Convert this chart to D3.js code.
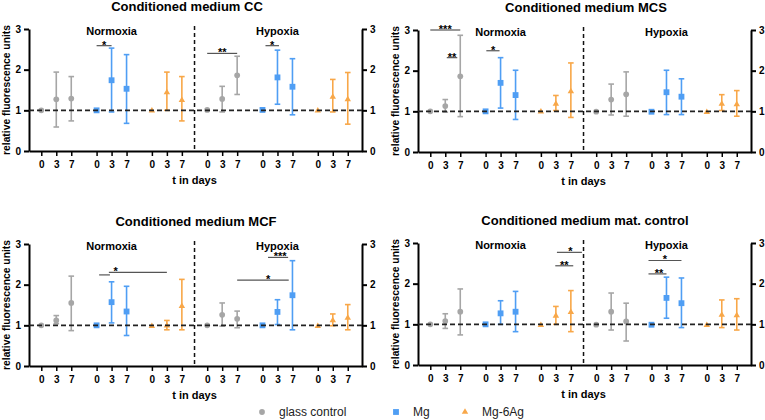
<!DOCTYPE html>
<html>
<head>
<meta charset="utf-8">
<script src="https://cdn.jsdelivr.net/npm/d3@7"></script>
<style>
    body { margin: 0; background: #fff; }
    svg text { font-family: "Liberation Sans", Arial, sans-serif; }
    .axis text { font-size: 10px; font-weight: bold; fill: #000; }
    .axis path, .axis line { stroke: #000; }
</style>
</head>
<body>
<div id="chart"></div>
<script>
// categories
const conditions = ['Normoxia', 'Hypoxia'];
const materials = ['glass control', 'Mg', 'Mg-6Ag'];
const days = ['0', '3', '7'];
const yTicks = [0, 1, 2, 3];

// values per slot: Normoxia (glass 0,3,7 | Mg 0,3,7 | Mg-6Ag 0,3,7), then Hypoxia in the same order
const ccMean = [1.00, 1.27, 1.29, 1.00, 1.74, 1.53, 0.99, 1.44, 1.25, 1.01, 1.28, 1.86, 1.01, 1.81, 1.58, 0.99, 1.33, 1.27];
const ccLow  = [1.00, 0.59, 0.74, 1.00, 0.96, 0.68, 0.99, 1.00, 0.74, 1.01, 0.96, 1.39, 1.01, 1.15, 0.89, 0.99, 0.96, 0.66];
const ccHigh = [1.00, 1.94, 1.83, 1.00, 2.53, 2.37, 0.99, 1.94, 1.83, 1.01, 1.59, 2.33, 1.01, 2.48, 2.27, 0.99, 1.76, 1.93];

const mcsMean = [1.00, 1.13, 1.86, 1.00, 1.70, 1.40, 0.99, 1.18, 1.49, 0.99, 1.29, 1.42, 0.99, 1.47, 1.36, 0.98, 1.18, 1.17];
const mcsLow  = [1.00, 0.98, 0.87, 1.00, 1.08, 0.80, 0.99, 1.02, 0.85, 0.99, 0.91, 0.88, 0.99, 0.92, 0.92, 0.98, 1.02, 0.88];
const mcsHigh = [1.00, 1.29, 2.87, 1.00, 2.32, 2.01, 0.99, 1.39, 2.19, 0.99, 1.67, 1.97, 0.99, 2.01, 1.80, 0.98, 1.41, 1.51];

const mcfMean = [1.00, 1.12, 1.55, 1.00, 1.57, 1.34, 0.98, 0.99, 1.47, 1.00, 1.26, 1.16, 1.00, 1.33, 1.74, 0.98, 1.12, 1.18];
const mcfLow  = [1.00, 1.04, 0.87, 1.00, 1.06, 0.75, 0.98, 0.89, 0.89, 1.00, 0.98, 0.94, 1.00, 1.02, 0.89, 0.98, 0.99, 0.89];
const mcfHigh = [1.00, 1.24, 2.21, 1.00, 2.07, 1.96, 0.98, 1.12, 2.13, 1.00, 1.55, 1.35, 1.00, 1.63, 2.59, 0.98, 1.28, 1.51];

const matMean = [1.00, 1.08, 1.31, 1.00, 1.27, 1.31, 0.98, 1.21, 1.30, 0.99, 1.31, 1.07, 0.99, 1.65, 1.52, 0.98, 1.23, 1.22];
const matLow  = [1.00, 0.90, 0.74, 1.00, 1.00, 0.82, 0.98, 1.00, 0.82, 0.99, 0.86, 0.59, 0.99, 1.15, 0.92, 0.98, 0.92, 0.86];
const matHigh = [1.00, 1.26, 1.87, 1.00, 1.58, 1.81, 0.98, 1.44, 1.83, 0.99, 1.77, 1.52, 0.99, 2.16, 2.14, 0.98, 1.60, 1.63];

// significance brackets: [slot, offset] ends, bar height, label and label anchor
const ccSig = [
    {a: [3, 0], b: [4, 0], y: 2.59, t: '*', c: [3, 0.5]},
    {a: [9, 0], b: [11, 0], y: 2.40, t: '**', c: [10, 0]},
    {a: [12, 0.2], b: [13, 0.1], y: 2.59, t: '*', c: [12, 0.65]}
];
const mcsSig = [
    {a: [0, 0], b: [2, 0], y: 3.00, t: '***', c: [1, 0]},
    {a: [1, 0.1], b: [1, 0.8], y: 2.32, t: '**', c: [1, 0.45]},
    {a: [3, 0.05], b: [3, 0.93], y: 2.49, t: '*', c: [3, 0.5]}
];
const mcfSig = [
    {a: [3, 0.17], b: [3, 0.89], y: 2.24, t: '', c: [3, 0.5]},
    {a: [3, 0.82], b: [7, 0], y: 2.30, t: '*', c: [4, 0.27]},
    {a: [12, 0.37], b: [12, 1.71], y: 2.67, t: '***', c: [13, 0.18]},
    {a: [11, 0], b: [12, 1.75], y: 2.11, t: '*', c: [12, 0.37]}
];
const matSig = [
    {a: [7, 0.07], b: [8, 0.74], y: 2.77, t: '*', c: [7, 0.97]},
    {a: [7, -0.04], b: [8, 0.16], y: 2.44, t: '**', c: [7, 0.56]},
    {a: [12, -0.2], b: [14, 0], y: 2.57, t: '*', c: [13, -0.1]},
    {a: [12, -0.2], b: [13, 0], y: 2.24, t: '**', c: [12, 0.5]}
];

const colors = {'glass control': '#a6a6a6', 'Mg': '#4f9ef4', 'Mg-6Ag': '#f8a748'};
const symbols = {'glass control': d3.symbolCircle, 'Mg': d3.symbolSquare, 'Mg-6Ag': d3.symbolTriangle};
const symbolSize = {'glass control': 26, 'Mg': 34, 'Mg-6Ag': 18};

const panels = [
    {title: 'Conditioned medium CC', mean: ccMean, low: ccLow, high: ccHigh, sig: ccSig, left: 29, top: 29, titleX: 187},
    {title: 'Conditioned medium MCS', mean: mcsMean, low: mcsLow, high: mcsHigh, sig: mcsSig, left: 418, top: 30, titleX: 586},
    {title: 'Conditioned medium MCF', mean: mcfMean, low: mcfLow, high: mcfHigh, sig: mcfSig, left: 29, top: 244, titleX: 196},
    {title: 'Conditioned medium mat. control', mean: matMean, low: matLow, high: matHigh, sig: matSig, left: 418, top: 243, titleX: 585}
];

const plotW = 333, plotH = 122;
const groupStep = 3.69;

const svg = d3.select('#chart').append('svg')
    .attr('width', 765)
    .attr('height', 420);

// slot index -> position along x (groups of 3 days with a gap between groups)
function slotPos(s) {
    const g = Math.floor(s / 3);
    return g * groupStep + (s % 3);
}

function drawPanel(p) {
    const x = d3.scaleLinear()
        .domain([-0.82, slotPos(17) + 0.95])
        .range([0, plotW]);
    const y = d3.scaleLinear()
        .domain([0, 3])
        .range([plotH, 0]);

    const g = svg.append('g')
        .attr('transform', `translate(${p.left},${p.top})`);

    const slots = d3.range(conditions.length * materials.length * days.length).map(i => ({
        i,
        condition: conditions[Math.floor(i / 9)],
        material: materials[Math.floor(i / 3) % 3],
        day: days[i % 3],
        mean: p.mean[i],
        low: p.low[i],
        high: p.high[i]
    }));

    // title
    svg.append('text')
        .attr('x', p.titleX)
        .attr('y', p.top - 18)
        .attr('text-anchor', 'middle')
        .style('font-size', '13px')
        .style('font-weight', 'bold')
        .text(p.title);

    // condition labels centred over the Mg day-3 slot
    conditions.forEach((c, ci) => {
        g.append('text')
            .attr('x', x(slotPos(ci * 9 + 4)))
            .attr('y', 6)
            .attr('text-anchor', 'middle')
            .style('font-size', '11px')
            .style('font-weight', 'bold')
            .text(c);
    });

    // axes
    const fmt = d3.format('d');
    g.append('g')
        .attr('class', 'axis')
        .call(d3.axisLeft(y).tickValues(yTicks).tickFormat(fmt).tickSize(5).tickSizeOuter(0).tickPadding(3))
        .call(a => a.select('.domain').attr('stroke-width', 2))
        .call(a => a.selectAll('.tick line').attr('stroke-width', 2));

    g.append('g')
        .attr('class', 'axis')
        .attr('transform', `translate(${plotW},0)`)
        .call(d3.axisRight(y).tickValues(yTicks).tickFormat(fmt).tickSize(5).tickSizeOuter(0).tickPadding(3))
        .call(a => a.select('.domain').attr('stroke-width', 2))
        .call(a => a.selectAll('.tick line').attr('stroke-width', 2));

    g.append('g')
        .attr('class', 'axis')
        .attr('transform', `translate(0,${plotH})`)
        .call(d3.axisBottom(x)
            .tickValues(slots.map(d => slotPos(d.i)))
            .tickFormat((d, i) => days[i % 3])
            .tickSize(5).tickSizeOuter(0).tickPadding(5))
        .call(a => a.select('.domain').attr('stroke-width', 2))
        .call(a => a.selectAll('.tick line').attr('stroke-width', 1.5));

    // axis titles
    g.append('text')
        .attr('transform', `translate(-19.5,${plotH / 2}) rotate(-90)`)
        .attr('text-anchor', 'middle')
        .style('font-size', '10.3px')
        .style('font-weight', 'bold')
        .text('relative fluorescence units');

    g.append('text')
        .attr('x', x((slotPos(8) + slotPos(9)) / 2))
        .attr('y', plotH + 33)
        .attr('text-anchor', 'middle')
        .style('font-size', '11px')
        .style('font-weight', 'bold')
        .text('t in days');

    // divider between normoxia and hypoxia
    g.append('line')
        .attr('x1', x((slotPos(8) + slotPos(9)) / 2))
        .attr('x2', x((slotPos(8) + slotPos(9)) / 2))
        .attr('y1', -3)
        .attr('y2', plotH)
        .attr('stroke', '#111')
        .attr('stroke-width', 1.5)
        .attr('stroke-dasharray', '4,3');

    // error bars
    const bars = g.selectAll('.err')
        .data(slots.filter(d => d.high - d.low > 0.001))
        .enter().append('g')
        .attr('class', 'err')
        .attr('stroke', d => colors[d.material])
        .attr('stroke-width', 1.6);

    bars.append('line')
        .attr('x1', d => x(slotPos(d.i)))
        .attr('x2', d => x(slotPos(d.i)))
        .attr('y1', d => y(d.low))
        .attr('y2', d => y(d.high));

    ['low', 'high'].forEach(k => {
        bars.append('line')
            .attr('x1', d => x(slotPos(d.i)) - 2.8)
            .attr('x2', d => x(slotPos(d.i)) + 2.8)
            .attr('y1', d => y(d[k]))
            .attr('y2', d => y(d[k]));
    });

    // markers
    g.selectAll('.pt')
        .data(slots)
        .enter().append('path')
        .attr('class', 'pt')
        .attr('transform', d => `translate(${x(slotPos(d.i))},${y(d.mean)})`)
        .attr('d', d => d3.symbol().type(symbols[d.material]).size(symbolSize[d.material])())
        .attr('fill', d => colors[d.material]);

    // reference line at 1
    g.append('line')
        .attr('x1', 0)
        .attr('x2', plotW)
        .attr('y1', y(1))
        .attr('y2', y(1))
        .attr('stroke', '#222')
        .attr('stroke-width', 1.6)
        .attr('stroke-dasharray', '5,3');

    // significance brackets
    const px = e => x(slotPos(e[0]) + e[1]);
    p.sig.forEach(s => {
        g.append('line')
            .attr('x1', px(s.a))
            .attr('x2', px(s.b))
            .attr('y1', y(s.y))
            .attr('y2', y(s.y))
            .attr('stroke', '#555')
            .attr('stroke-width', 1.2);
        if (s.t) {
            g.append('text')
                .attr('x', px(s.c))
                .attr('y', y(s.y) + 3)
                .attr('text-anchor', 'middle')
                .style('font-size', '11px')
                .style('font-weight', 'bold')
                .text(s.t);
        }
    });
}

panels.forEach(drawPanel);

// legend
const legendX = [262, 396, 465];
const legend = svg.append('g')
    .attr('transform', 'translate(0,412)');

materials.forEach((m, i) => {
    legend.append('path')
        .attr('transform', `translate(${legendX[i]},0)`)
        .attr('d', d3.symbol().type(symbols[m]).size(symbolSize[m])())
        .attr('fill', colors[m]);
    legend.append('text')
        .attr('x', legendX[i] + 17)
        .attr('y', 4)
        .style('font-size', '12px')
        .style('fill', '#222')
        .text(m);
});
</script>
</body>
</html>
